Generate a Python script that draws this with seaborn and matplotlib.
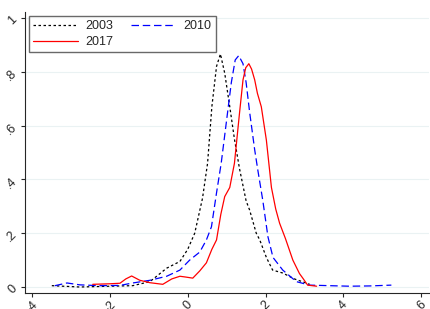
import numpy as np
import pandas as pd
import matplotlib
matplotlib.use("Agg")
import matplotlib.pyplot as plt
import seaborn as sns
from matplotlib.lines import Line2D

# kernel density curves
x_2003 = [-3.49, -2.77, -2.0, -1.41, -0.97, -0.54, -0.2, 0.0, 0.18, 0.38, 0.51, 0.62,
          0.74, 0.84, 0.95, 1.08, 1.2, 1.33, 1.5, 1.59, 1.76, 1.85, 2.02, 2.18, 2.44,
          2.74, 3.04, 3.13]
y_2003 = [0.005, 0.0, 0.003, 0.005, 0.02, 0.07, 0.095, 0.14, 0.2, 0.33, 0.46, 0.67,
          0.82, 0.866, 0.795, 0.67, 0.55, 0.44, 0.32, 0.286, 0.2, 0.175, 0.11, 0.063,
          0.052, 0.03, 0.015, 0.01]

x_2010 = [-3.41, -3.1, -2.77, -2.26, -1.74, -1.41, -0.97, -0.54, -0.2, 0.05, 0.31, 0.48,
          0.61, 0.74, 0.86, 0.99, 1.12, 1.22, 1.31, 1.42, 1.5, 1.59, 1.72, 1.8, 1.93,
          2.06, 2.19, 2.44, 2.79, 3.13, 3.64, 4.15, 4.67, 5.23]
y_2010 = [0.005, 0.015, 0.008, 0.005, 0.006, 0.015, 0.025, 0.04, 0.063, 0.1, 0.13, 0.175,
          0.224, 0.35, 0.46, 0.61, 0.76, 0.844, 0.86, 0.83, 0.76, 0.65, 0.51, 0.435, 0.32,
          0.187, 0.11, 0.063, 0.02, 0.007, 0.005, 0.003, 0.004, 0.007]

x_2017 = [-2.44, -2.0, -1.74, -1.59, -1.44, -1.23, -0.97, -0.64, -0.41, -0.2, -0.05, 0.13,
          0.31, 0.48, 0.62, 0.74, 0.85, 0.95, 1.08, 1.2, 1.33, 1.42, 1.49, 1.57, 1.64,
          1.72, 1.79, 1.89, 2.02, 2.15, 2.26, 2.36, 2.51, 2.7, 2.87, 2.96, 3.08, 3.31]
y_2017 = [0.01, 0.012, 0.014, 0.03, 0.041, 0.025, 0.016, 0.01, 0.03, 0.04, 0.037, 0.033,
          0.06, 0.09, 0.14, 0.175, 0.27, 0.336, 0.37, 0.46, 0.646, 0.77, 0.815, 0.83, 0.81,
          0.77, 0.72, 0.67, 0.546, 0.37, 0.29, 0.237, 0.18, 0.1, 0.05, 0.032, 0.007, 0.003]

years = ["2003", "2010", "2017"]
colors = {"2003": "black", "2010": "#0000ff", "2017": "#ff0000"}
dashes = {"2003": (2, 2), "2010": (6, 3), "2017": ""}

df = pd.concat([
    pd.DataFrame({"x": x_2003, "y": y_2003, "year": "2003"}),
    pd.DataFrame({"x": x_2010, "y": y_2010, "year": "2010"}),
    pd.DataFrame({"x": x_2017, "y": y_2017, "year": "2017"}),
])

sns.set_style("ticks")
plt.rcParams["font.family"] = ["Liberation Sans", "DejaVu Sans"]
fig = plt.figure(figsize=(4.3, 3.09), dpi=100)
ax = fig.add_axes([0.058, 0.052, 0.94, 0.909])

sns.lineplot(data=df, x="x", y="y", hue="year", style="year", palette=colors,
             dashes=dashes, sort=False, estimator=None, linewidth=0.9, ax=ax, legend=False)

ax.set_xlim(-4.18, 6.2)
ax.set_ylim(-0.022, 1.022)
ax.set_xticks([-4, -2, 0, 2, 4, 6])
ax.set_xticklabels(["-4", "-2", "0", "2", "4", "6"], rotation=45, fontsize=9)
ax.set_yticks([0, 0.2, 0.4, 0.6, 0.8, 1])
ax.set_yticklabels(["0", ".2", ".4", ".6", ".8", "1"], rotation=45, fontsize=9)
ax.yaxis.grid(True, color="#eaf2f3", linewidth=0.8)
ax.set_axisbelow(True)
ax.set_xlabel("")
ax.set_ylabel("")
ax.tick_params(length=3, width=0.8, pad=1)
sns.despine(ax=ax)
for s in ["left", "bottom"]:
    ax.spines[s].set_linewidth(0.8)

h = {y: Line2D([], [], color=colors[y], linewidth=0.9,
               linestyle=(0, dashes[y]) if dashes[y] else "-") for y in years}
leg = ax.legend([h["2003"], h["2017"], h["2010"]], ["2003", "2017", "2010"], ncol=2,
                loc="upper left", bbox_to_anchor=(0.0, 1.0), fontsize=9,
                frameon=True, fancybox=False, borderpad=0.35, labelspacing=0.3,
                handlelength=3.6, columnspacing=1.4, handletextpad=0.6, borderaxespad=0.3)
leg.get_frame().set_edgecolor("#444444")
leg.get_frame().set_linewidth(1.0)

fig.savefig("out.png", dpi=100)
